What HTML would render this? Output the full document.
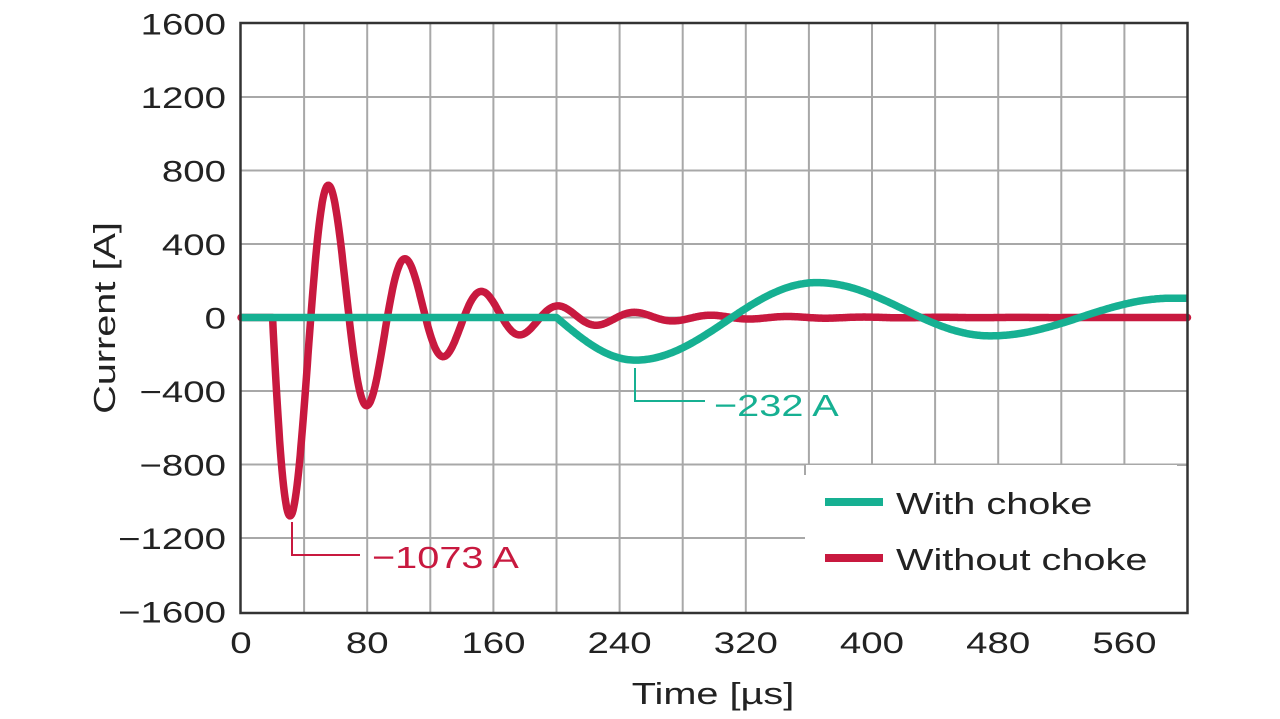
<!DOCTYPE html>
<html><head><meta charset="utf-8"><style>
html,body{margin:0;padding:0;background:#fff;}
svg{display:block;font-family:"Liberation Sans",Arial,sans-serif;}
</style></head><body>
<svg id="s" width="1280" height="719" viewBox="0 0 1280 719">
<rect width="1280" height="719" fill="#fff"/>
<g id="grid" stroke="#a8a8a8" stroke-width="2"></g>
<rect x="805" y="465" width="382" height="148" fill="#fff"/>
<g stroke="#a8a8a8" stroke-width="2">
<line x1="805" y1="465" x2="805" y2="475"/>
<line x1="1177" y1="465" x2="1187" y2="465"/>
</g>
<path id="red" fill="none" stroke="#c8193f" stroke-width="7.5" stroke-linejoin="round" stroke-linecap="round"/>
<path id="grn" fill="none" stroke="#16b092" stroke-width="7.5" stroke-linejoin="round"/>
<rect x="240.5" y="23" width="947" height="590" fill="none" stroke="#333" stroke-width="2.5"/>
<g id="lab" font-size="30" fill="#222"></g>
<polyline points="635,368 635,401 705,401" fill="none" stroke="#16b092" stroke-width="2"/>
<text class="w" x="714" y="416" font-size="31" fill="#16b092">−232 A</text>
<polyline points="292,522 292,555 360,555" fill="none" stroke="#c8193f" stroke-width="2"/>
<text class="w" x="372" y="568" font-size="31" fill="#c8193f">−1073 A</text>
<line x1="825" y1="502" x2="883" y2="502" stroke="#16b092" stroke-width="8"/>
<line x1="825" y1="558" x2="883" y2="558" stroke="#c8193f" stroke-width="8"/>
<text class="w" x="896" y="514" font-size="31" fill="#222">With choke</text>
<text class="w" x="896" y="570" font-size="31" fill="#222">Without choke</text>
<text class="w" x="713" y="704" font-size="31" fill="#222" text-anchor="middle">Time [µs]</text>
<text class="w" transform="translate(115,318) rotate(-90)" font-size="31" fill="#222" text-anchor="middle">Current [A]</text>
</svg>
<script>
var X=t=>241+t*1.5775, Y=v=>317.5-v*0.18375;
var g=document.getElementById('grid'),lab=document.getElementById('lab'),ns='http://www.w3.org/2000/svg';
function el(p,tag,a,txt){var e=document.createElementNS(ns,tag);for(var k in a)e.setAttribute(k,a[k]);if(txt)e.textContent=txt;p.appendChild(e);return e;}
for(var t=40;t<600;t+=40)el(g,'line',{x1:X(t),y1:23,x2:X(t),y2:613});
for(var v=-1200;v<1600;v+=400)el(g,'line',{x1:240,y1:Y(v),x2:1187,y2:Y(v)});
for(var v=-1600;v<=1600;v+=400)el(lab,'text',{x:226,y:Y(v)+11,'text-anchor':'end','class':'w'},(v<0?'−':'')+Math.abs(v));
for(var t=0;t<=560;t+=80)el(lab,'text',{x:X(t),y:653,'text-anchor':'middle','class':'w'},''+t);
var d='M'+X(0)+','+Y(0)+' L'+X(20)+','+Y(0);
for(var t=20;t<=600;t+=0.5){var A=1073*Math.exp(-(t-32)/59.8);var v=-A*Math.sin(2*Math.PI*(t-20)/48.5);d+=' L'+X(t).toFixed(1)+','+Y(v).toFixed(1);}
document.getElementById('red').setAttribute('d',d);
var P=[[250,-232],[365,190],[475,-100],[590,105],[600,105]];
var d2='M'+X(0)+','+Y(0)+' L'+X(200)+','+Y(0);
for(var t=200;t<=600;t+=1){var v;
if(t<=250)v=-232*Math.sin((t-200)/50*Math.PI/2);
else{for(var i=0;i<P.length-1;i++)if(t<=P[i+1][0])break;var a=P[i],b=P[i+1];var f=(t-a[0])/(b[0]-a[0]);v=a[1]+(b[1]-a[1])*(1-Math.cos(Math.PI*f))/2;}
d2+=' L'+X(t).toFixed(1)+','+Y(v).toFixed(1);}
document.getElementById('grn').setAttribute('d',d2);
document.querySelectorAll('.w').forEach(function(e){var L=e.getComputedTextLength();e.setAttribute('textLength',(L*1.28).toFixed(1));e.setAttribute('lengthAdjust','spacingAndGlyphs');});
</script>
</body></html>
